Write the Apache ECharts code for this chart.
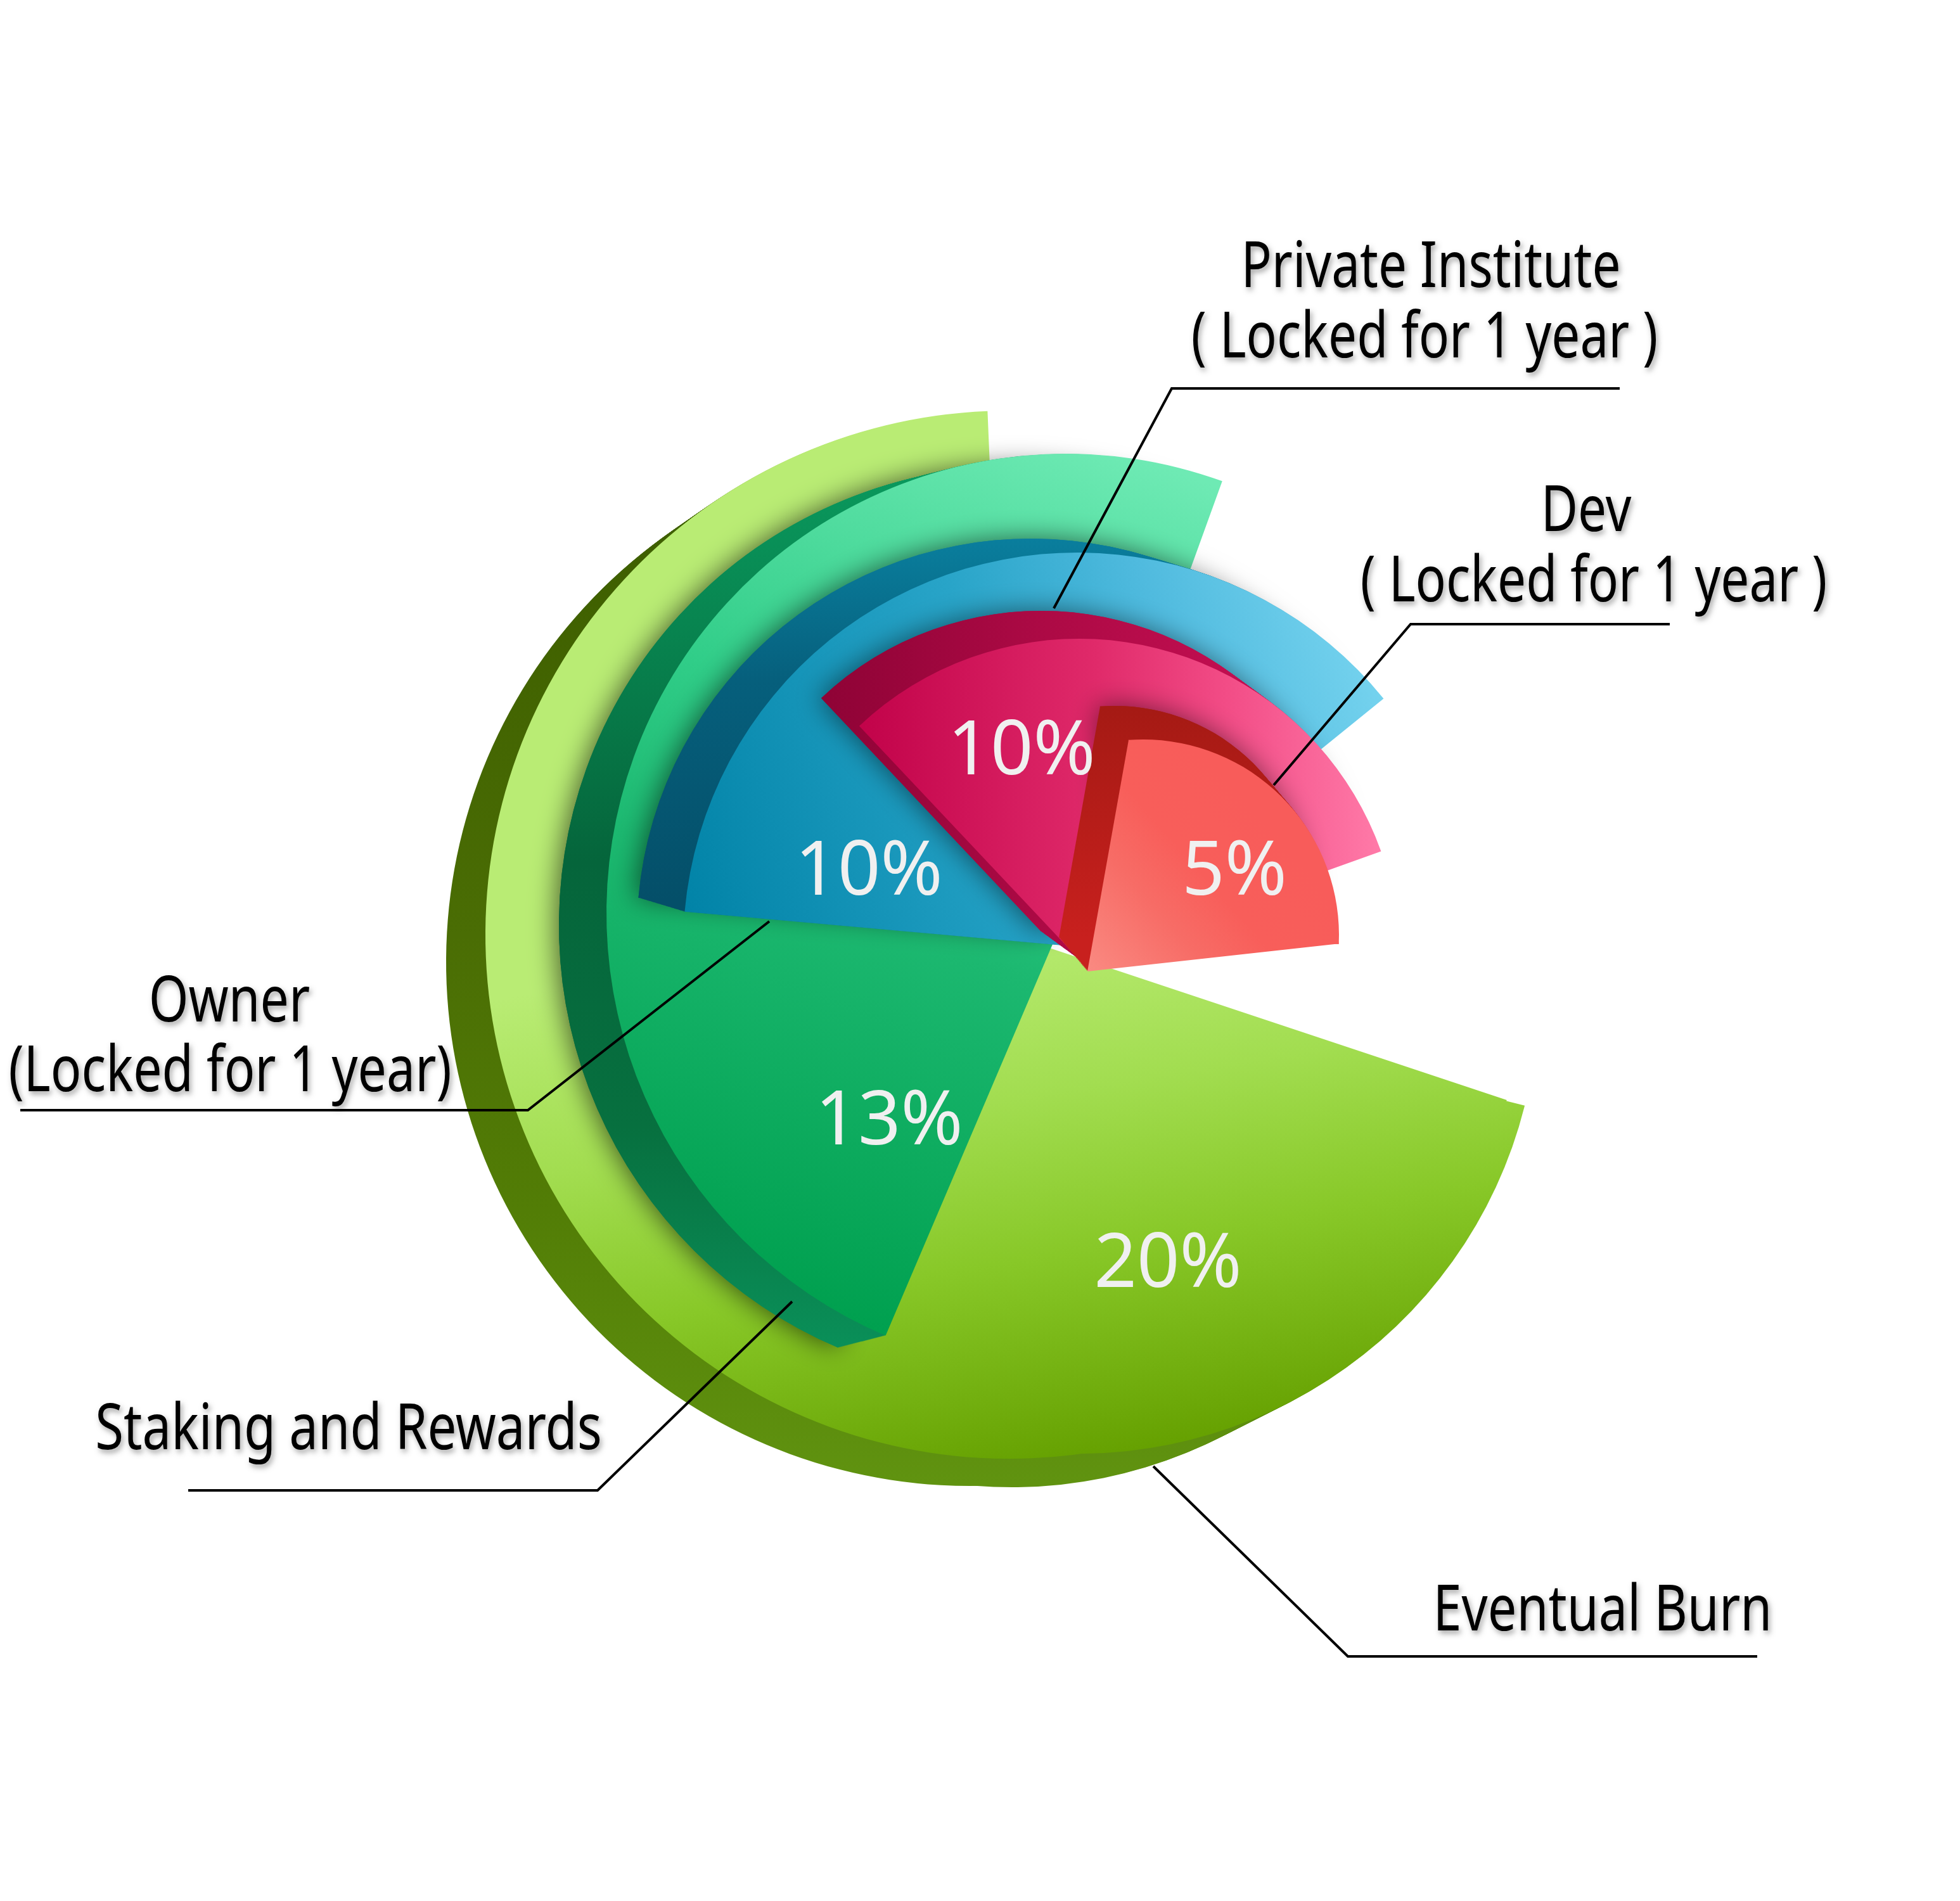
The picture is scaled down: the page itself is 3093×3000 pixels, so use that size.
<!DOCTYPE html>
<html>
<head>
<meta charset="utf-8">
<title>Token allocation</title>
<style>
    html, body { margin: 0; padding: 0; background: #fff; }
    #main { width: 3093px; height: 3000px; }
</style>
<script src="https://cdn.jsdelivr.net/npm/echarts@6/dist/echarts.min.js"></script>
</head>
<body>
<div id="main"></div>
<script>
// chart values, back slice first
var names = ['Eventual Burn', 'Staking and Rewards', 'Owner\n(Locked for 1 year)', 'Private Institute\n( Locked for 1 year )', 'Dev\n( Locked for 1 year )'];
var percents = [20, 13, 10, 10, 5];
// where each slice starts and ends (it is not drawn to scale)
var startAngles = [92.4, 70.1, 39, 19.7, -2.6];
var endAngles = [341.6, 246.9, 174.9, 133.3, 94.3];

// slice geometry: face centre, radius, how far the dark side sits from the face
var shapes = [
    { cx: 1593, cy: 1475, r: 827, dx: -62, dy: 43 },
    { cx: 1682, cy: 1441, r: 725, dx: -75, dy: 19 },
    { cx: 1700, cy: 1494, r: 622, dx: -73, dy: -22 },
    { cx: 1703, cy: 1514, r: 506, dx: -60, dy: -44 },
    { cx: 1804, cy: 1476, r: 309, dx: -45, dy: -53 }
];
// some outlines are not one circle, more sectors make up the rest of the slice
// (the two red ones overlap on purpose, otherwise a seam shows between them)
var extraParts = [
    { index: 0, cx: 1702, cy: 1568, r: 726, start: 260, end: 345.9, dx: -105, dy: 53 },
    { index: 4, cx: 1716, cy: 1533, r: 399, start: 6.3, end: 55, dx: -45, dy: -53 },
    { index: 4, cx: 1716, cy: 1533, r: 371, start: 45, end: 79.9, dx: -45, dy: -53 }
];

function linear(x, y, x2, y2, stops) {
    return {
        type: 'linear', global: true, x: x, y: y, x2: x2, y2: y2,
        colorStops: stops.map(function (s) { return { offset: s[0], color: s[1] }; })
    };
}

var faceColors = [
    linear(1560, 1450, 1700, 2310, [[0, '#b9ec74'], [0.33, '#a2dd50'], [0.62, '#88c828'], [1, '#65a000']]),
    linear(1900, 760, 1400, 2110, [[0, '#6eeab4'], [0.38, '#30cd88'], [0.58, '#1cb870'], [1, '#00a04f']]),
    linear(1085, 1500, 2180, 1100, [[0, '#0082a6'], [0.5, '#28a4c8'], [0.75, '#4fbade'], [1, '#74d2ee']]),
    linear(1362, 1300, 2179, 1300, [[0, '#c2034a'], [0.45, '#e02a6a'], [0.7, '#f24c86'], [1, '#ff7aa8']]),
    linear(1716, 1533, 1990, 1290, [[0, '#fa8a82'], [0.4, '#f76c66'], [0.65, '#f85e5a'], [1, '#f85c5a']])
];
var sideColors = [
    linear(0, 900, 0, 2340, [[0, '#3f6000'], [0.4, '#4a6d04'], [0.7, '#527d06'], [1, '#609310']]),
    linear(0, 730, 0, 2130, [[0, '#0a9a5e'], [0.45, '#05653b'], [0.75, '#07703f'], [1, '#0a9059']]),
    linear(0, 845, 0, 1420, [[0, '#0a7f9e'], [0.4, '#065f7c'], [1, '#044f69']]),
    linear(1302, 0, 2000, 0, [[0, '#8f0336'], [0.5, '#ad0a45'], [1, '#c40f52']]),
    linear(0, 1115, 0, 1480, [[0, '#a51a14'], [1, '#c8201e']])
];
var shadows = [null, 'rgba(0,0,0,0.6)', 'rgba(0,0,0,0.55)', 'rgba(0,0,0,0.5)', 'rgba(0,0,0,0.5)'];

// one pie holding a single slice, it fills the angle range it is given
function wedge(i, cx, cy, r, start, end, color, shadow) {
    var style = { color: color };
    if (shadow) {
        style.shadowColor = shadow;
        style.shadowBlur = 42;
        style.shadowOffsetX = -4;
    }
    return {
        type: 'pie',
        silent: true,
        clockwise: false,
        animation: false,
        center: [cx, cy],
        radius: [0, r],
        startAngle: start,
        endAngle: end,
        label: { show: false },
        labelLine: { show: false },
        itemStyle: style,
        data: [{ value: percents[i], name: names[i].split('\n')[0] }]
    };
}

var series = [];
percents.forEach(function (p, i) {
    var s = shapes[i];
    var steps = Math.ceil(Math.sqrt(s.dx * s.dx + s.dy * s.dy) / 2);
    var extras = extraParts.filter(function (e) { return e.index == i; });
    // shadow first, then the face pushed back step by step gives the dark side
    if (shadows[i]) {
        series.push(wedge(i, s.cx + s.dx, s.cy + s.dy, s.r, startAngles[i], endAngles[i], sideColors[i], shadows[i]));
    }
    for (var k = steps; k >= 1; k--) {
        var t = k / steps;
        series.push(wedge(i, s.cx + s.dx * t, s.cy + s.dy * t, s.r, startAngles[i], endAngles[i], sideColors[i]));
        extras.forEach(function (e) {
            series.push(wedge(i, e.cx + e.dx * t, e.cy + e.dy * t, e.r, e.start, e.end, sideColors[i]));
        });
    }
    series.push(wedge(i, s.cx, s.cy, s.r, startAngles[i], endAngles[i], faceColors[i]));
    extras.forEach(function (e) {
        series.push(wedge(i, e.cx, e.cy, e.r, e.start, e.end, faceColors[i]));
    });
});

// annotation layer: percent text, name text, leader lines
var percentSpots = [[1843, 2028], [1403, 1803], [1371, 1409], [1612, 1219], [1948, 1409]];
var nameSpots = [
    { x: [2529], y: [2568], sx: 0.81 },
    { x: [550], y: [2282], sx: 0.815 },
    { x: [362, 363], y: [1607, 1717], sx: 0.805 },
    { x: [2258, 2248], y: [448, 559], sx: 0.8 },
    { x: [2503, 2515], y: [833, 944], sx: 0.8 }
];
var leaderLines = [
    [[2773, 2614], [2127, 2614], [1820, 2314]],
    [[297, 2352], [943, 2352], [1250, 2054]],
    [[32, 1752], [833, 1752], [1214, 1454]],
    [[2556, 613], [1849, 613], [1663, 960]],
    [[2635, 985], [2226, 985], [2010, 1239]]
];

var graphics = [];
percents.forEach(function (p, i) {
    graphics.push({
        type: 'text', silent: true, z: 100,
        x: percentSpots[i][0], y: percentSpots[i][1] - 31,
        style: {
            text: p + '%', align: 'center', verticalAlign: 'middle',
            font: '118px "Noto Sans"', fill: '#f0f0f0'
        }
    });
    names[i].split('\n').forEach(function (line, n) {
        graphics.push({
            type: 'text', silent: true, z: 100,
            x: nameSpots[i].x[n], y: nameSpots[i].y[n] - 23, scaleX: nameSpots[i].sx,
            style: {
                text: line, align: 'center', verticalAlign: 'middle',
                font: '100px "Noto Sans"', fill: '#000',
                textShadowColor: 'rgba(0,0,0,0.35)', textShadowBlur: 8, textShadowOffsetX: 3, textShadowOffsetY: 5
            }
        });
    });
    graphics.push({
        type: 'polyline', silent: true, z: 100,
        shape: { points: leaderLines[i] },
        style: { stroke: '#000', lineWidth: 4, fill: null }
    });
});

var myChart = echarts.init(document.getElementById('main'));
myChart.setOption({
    backgroundColor: '#fff',
    animation: false,
    tooltip: { show: false },
    legend: { show: false },
    series: series,
    graphic: { elements: graphics }
});
</script>
</body>
</html>
